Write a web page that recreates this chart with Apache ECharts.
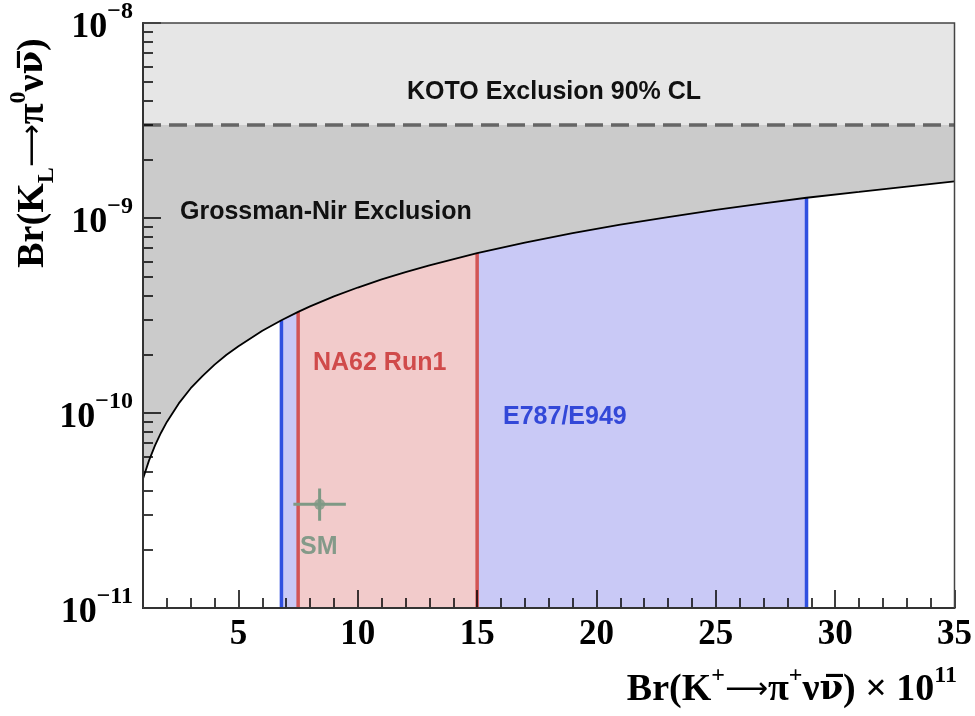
<!DOCTYPE html>
<html>
<head>
<meta charset="utf-8">
<script src="https://cdn.jsdelivr.net/npm/echarts@6/dist/echarts.min.js"></script>
<style>
  html, body { margin: 0; padding: 0; background: #ffffff; }
  #chart { width: 975px; height: 716px; }
</style>
</head>
<body>
<div id="chart"></div>
<script>
// Grossman–Nir upper edge: Br(KL→π0νν̄) allowed for a given Br(K+→π+νν̄) (x in units of 1e-11)
const gnX = [1, 1.25, 1.5, 1.75, 2, 2.5, 3, 3.5, 4, 4.5, 5, 6, 6.8, 7.5, 8, 9, 10, 11, 12, 13, 15,
             17, 19, 21, 23, 25, 27, 28.8, 31, 33, 35];
const gnY = [4.6e-11, 5.7e-11, 6.8e-11, 7.9e-11, 9.0e-11, 1.12e-10, 1.34e-10, 1.55e-10, 1.77e-10, 1.99e-10,
             2.2e-10, 2.64e-10, 2.99e-10, 3.3e-10, 3.52e-10, 3.96e-10, 4.4e-10, 4.84e-10, 5.28e-10, 5.72e-10,
             6.6e-10, 7.48e-10, 8.36e-10, 9.24e-10, 1.01e-9, 1.1e-9, 1.19e-9, 1.27e-9, 1.36e-9, 1.45e-9, 1.54e-9];

// KOTO 90% CL limit on Br(KL→π0νν̄)
const kotoLimit = 3.0e-9;

// Measured Br(K+→π+νν̄) intervals (x 1e-11)
const e949Range = [6.8, 28.8];
const na62Range = [7.5, 15.0];

// Standard Model prediction
const smX = 8.4;
const smY = 3.4e-11;
const smXErr = [7.3, 9.5];
const smYErr = [2.8e-11, 4.1e-11];

// Axes
const xRange = [1, 35];
const yRange = [1e-11, 1e-8];
const xMajorTicks = [5, 10, 15, 20, 25, 30, 35];
const yMinorTicks = [2e-11, 3e-11, 4e-11, 5e-11, 6e-11, 7e-11, 8e-11, 9e-11,
                     2e-10, 3e-10, 4e-10, 5e-10, 6e-10, 7e-10, 8e-10, 9e-10,
                     2e-9, 3e-9, 4e-9, 5e-9, 6e-9, 7e-9, 8e-9, 9e-9];

const SERIF = '"Liberation Serif", "Times New Roman", serif';
const SANS = '"Liberation Sans", Arial, Helvetica, sans-serif';

const gnPoints = gnX.map((x, i) => [x, gnY[i]]);
const pointsIn = (r) => gnPoints.filter(p => p[0] >= r[0] && p[0] <= r[1]);
const curveAt = (x) => gnY[gnX.indexOf(x)];

function edgeLine(x, color, width) {
  return {
    type: 'line', xAxisIndex: 0, yAxisIndex: 0, z: 5, silent: true,
    symbol: 'none', animation: false,
    data: [[x, yRange[0]], [x, curveAt(x)]],
    lineStyle: { color: color, width: width }
  };
}

// Rich-text pieces for the axis titles
const titleRich = {
  t: { fontFamily: SERIF, fontWeight: 'bold', fontSize: 38, lineHeight: 52, verticalAlign: 'middle', fill: '#000' },
  a: { fontFamily: '"DejaVu Sans", sans-serif', fontWeight: 'normal', fontSize: 30, lineHeight: 52, verticalAlign: 'middle', fill: '#000' },
  n: { fontFamily: '"DejaVu Serif", serif', fontWeight: 'bold', fontSize: 34, lineHeight: 52, verticalAlign: 'middle', fill: '#000' },
  p: { fontFamily: SERIF, fontWeight: 'bold', fontSize: 24, lineHeight: 24, verticalAlign: 'top', fill: '#000' },
  b: { fontFamily: SERIF, fontWeight: 'bold', fontSize: 24, lineHeight: 24, verticalAlign: 'bottom', fill: '#000' }
};

const option = {
  backgroundColor: '#ffffff',
  animation: false,
  grid: {
    left: 143, right: 19, top: 23, bottom: 108,
    show: true, borderColor: '#444', borderWidth: 1.5, backgroundColor: 'transparent', z: 20
  },
  xAxis: [
    {
      type: 'value', min: xRange[0], max: xRange[1], position: 'bottom', z: 10,
      axisLine: { show: true, onZero: false, lineStyle: { color: '#000', width: 2 } },
      axisTick: { show: true, inside: true, length: 18, customValues: xMajorTicks, lineStyle: { color: '#000', width: 1.5 } },
      axisLabel: {
        show: true, customValues: xMajorTicks, margin: 9,
        fontFamily: SERIF, fontWeight: 'bold', fontSize: 35, color: '#000'
      },
      splitLine: { show: false }
    },
    {
      type: 'value', min: xRange[0], max: xRange[1], interval: 1, position: 'bottom', z: 10,
      axisLine: { show: false, onZero: false },
      axisTick: { show: true, inside: true, length: 10, lineStyle: { color: '#000', width: 1.5 } },
      axisLabel: { show: false },
      splitLine: { show: false }
    }
  ],
  yAxis: [
    {
      type: 'log', logBase: 10, min: yRange[0], max: yRange[1], position: 'left', z: 10,
      axisLine: { show: true, lineStyle: { color: '#000', width: 2 } },
      axisTick: { show: true, inside: true, length: 18, lineStyle: { color: '#000', width: 1.5 } },
      axisLabel: {
        show: true, margin: 10,
        formatter: (v) => '{b|10}{s|\u2212' + Math.abs(Math.round(Math.log10(v))) + '}',
        rich: {
          b: { fontFamily: SERIF, fontWeight: 'bold', fontSize: 36, lineHeight: 46, verticalAlign: 'bottom', color: '#000' },
          s: { fontFamily: SERIF, fontWeight: 'bold', fontSize: 24, lineHeight: 24, verticalAlign: 'top', color: '#000' }
        }
      },
      splitLine: { show: false }
    },
    {
      type: 'log', logBase: 10, min: yRange[0], max: yRange[1], position: 'left', z: 10,
      axisLine: { show: false },
      axisTick: { show: true, inside: true, length: 10, customValues: yMinorTicks, lineStyle: { color: '#000', width: 1.5 } },
      axisLabel: { show: false },
      splitLine: { show: false }
    }
  ],
  series: [
    // Grossman–Nir excluded region (above the curve)
    {
      type: 'line', xAxisIndex: 0, yAxisIndex: 0, z: 1, silent: true, symbol: 'none',
      data: gnPoints,
      lineStyle: { width: 0 },
      areaStyle: { origin: 'end', color: '#cbcbcb', opacity: 1 }
    },
    // E787/E949 band
    {
      type: 'line', xAxisIndex: 0, yAxisIndex: 0, z: 2, silent: true, symbol: 'none',
      data: pointsIn(e949Range),
      lineStyle: { width: 0 },
      areaStyle: { origin: 'start', color: '#c9c9f6', opacity: 1 }
    },
    // NA62 Run1 band
    {
      type: 'line', xAxisIndex: 0, yAxisIndex: 0, z: 3, silent: true, symbol: 'none',
      data: pointsIn(na62Range),
      lineStyle: { width: 0 },
      areaStyle: { origin: 'start', color: '#f2cbcb', opacity: 1 }
    },
    // KOTO excluded region with its dashed limit
    {
      type: 'line', xAxisIndex: 0, yAxisIndex: 0, z: 4, silent: true, symbol: 'none',
      data: [[xRange[0], kotoLimit], [xRange[1], kotoLimit]],
      lineStyle: { color: '#666666', width: 3.5, type: [18, 8] },
      areaStyle: { origin: 'end', color: '#e6e6e6', opacity: 1 }
    },
    edgeLine(e949Range[0], '#3050e0', 3.5),
    edgeLine(e949Range[1], '#3050e0', 3.5),
    edgeLine(na62Range[0], '#d25555', 3.5),
    edgeLine(na62Range[1], '#d25555', 3.5),
    // Grossman–Nir bound
    {
      type: 'line', xAxisIndex: 0, yAxisIndex: 0, z: 6, silent: true, symbol: 'none',
      data: gnPoints,
      lineStyle: { color: '#000', width: 1.8 }
    },
    // SM prediction with uncertainties
    {
      type: 'line', xAxisIndex: 0, yAxisIndex: 0, z: 7, silent: true, symbol: 'none',
      data: [[smXErr[0], smY], [smXErr[1], smY]],
      lineStyle: { color: '#7f9985', width: 3 }
    },
    {
      type: 'line', xAxisIndex: 0, yAxisIndex: 0, z: 7, silent: true, symbol: 'none',
      data: [[smX, smYErr[0]], [smX, smYErr[1]]],
      lineStyle: { color: '#7f9985', width: 3 }
    },
    {
      type: 'scatter', xAxisIndex: 0, yAxisIndex: 0, z: 8, silent: true,
      symbol: 'circle', symbolSize: 11,
      data: [[smX, smY]],
      itemStyle: { color: '#7f9985' }
    }
  ],
  graphic: [
    { type: 'text', z: 30, style: { x: 407, y: 92, text: 'KOTO Exclusion 90% CL', font: 'bold 25px ' + SANS, fill: '#111', verticalAlign: 'middle' } },
    { type: 'text', z: 30, style: { x: 180, y: 212, text: 'Grossman-Nir Exclusion', font: 'bold 25px ' + SANS, fill: '#111', verticalAlign: 'middle' } },
    { type: 'text', z: 30, style: { x: 313, y: 363, text: 'NA62 Run1', font: 'bold 25px ' + SANS, fill: '#d04a4a', verticalAlign: 'middle' } },
    { type: 'text', z: 30, style: { x: 503, y: 417, text: 'E787/E949', font: 'bold 25px ' + SANS, fill: '#3348d8', verticalAlign: 'middle' } },
    { type: 'text', z: 30, style: { x: 300, y: 547, text: 'SM', font: 'bold 25px ' + SANS, fill: '#849a89', verticalAlign: 'middle' } },
    // x-axis title
    {
      type: 'text', z: 30,
      style: {
        x: 957, y: 690, align: 'right', verticalAlign: 'middle',
        text: '{t|Br(K}{p|+}{a|\u27f6}{t|\u03c0}{p|+}{t|\u03bd}{n|\u03bd\u0305}{t|) \u00d7 10}{p|11}',
        rich: titleRich
      }
    },
    // y-axis title
    {
      type: 'text', z: 30, rotation: Math.PI / 2, x: 33, y: 153,
      style: {
        x: 0, y: 0, align: 'center', verticalAlign: 'middle',
        text: '{t|Br(K}{b|L}{a|\u27f6}{t|\u03c0}{p|0}{t|\u03bd}{n|\u03bd\u0305}{t|)}',
        rich: titleRich
      }
    }
  ]
};

const chart = echarts.init(document.getElementById('chart'));
chart.setOption(option);
</script>
</body>
</html>
